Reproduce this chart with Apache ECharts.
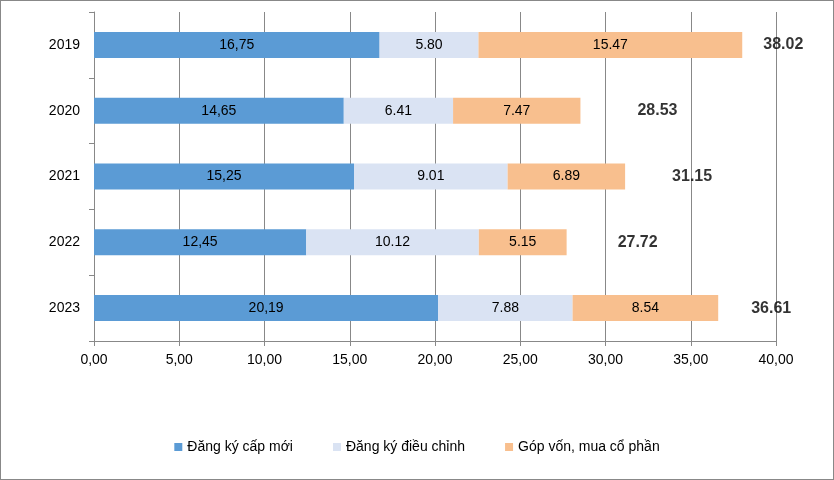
<!DOCTYPE html><html><head><meta charset="utf-8">
<script src="https://cdn.jsdelivr.net/npm/echarts@6/dist/echarts.min.js"></script>
<style>html,body{margin:0;padding:0}#c{width:832px;height:478px;border:1px solid #888}</style></head><body>
<div id="c"></div>
<script>
var years=['2019','2020','2021','2022','2023'];
var capMoi=[16.75,14.65,15.25,12.45,20.19];
var dieuChinh=[5.80,6.41,9.01,10.12,7.88];
var gopVon=[15.47,7.47,6.89,5.15,8.54];
var totals=[38.02,28.53,31.15,27.72,36.61];
var totalOffsets=[[16,0],[52,0],[42,0],[46,0],[28,0]];
var ch=echarts.init(document.getElementById('c'));
var lab={show:true,position:'inside',color:'#000',fontSize:14,fontFamily:'Liberation Sans'};
ch.setOption({
 animation:false,
 grid:{left:93,right:57,top:11,bottom:138},
 legend:{bottom:20,itemWidth:8,itemHeight:8,itemGap:40,icon:'rect',textStyle:{fontSize:14,color:'#000',fontFamily:'Liberation Sans'},data:['Đăng ký cấp mới','Đăng ký điều chỉnh','Góp vốn, mua cổ phần']},
 xAxis:{type:'value',min:0,max:40,interval:5,axisLabel:{formatter:function(v){return v.toFixed(2).replace('.',',');},fontSize:14,color:'#000',fontFamily:'Liberation Sans',margin:12},
  splitLine:{lineStyle:{color:'#888'}},axisLine:{show:true,lineStyle:{color:'#888'}},axisTick:{show:true,length:5,lineStyle:{color:'#888'}}},
 yAxis:{type:'category',inverse:true,data:years,axisLabel:{fontSize:14,color:'#000',fontFamily:'Liberation Sans',margin:14},
  axisLine:{lineStyle:{color:'#888'}},axisTick:{show:true,length:5,lineStyle:{color:'#888'}}},
 series:[
  {name:'Đăng ký cấp mới',type:'bar',stack:'a',barWidth:26,data:capMoi,itemStyle:{color:'#5B9BD5'},label:Object.assign({},lab,{formatter:function(p){return p.value.toFixed(2).replace('.',',');}})},
  {name:'Đăng ký điều chỉnh',type:'bar',stack:'a',data:dieuChinh,itemStyle:{color:'#DAE3F3'},label:Object.assign({},lab,{formatter:function(p){return p.value.toFixed(2);}})},
  {name:'Góp vốn, mua cổ phần',type:'bar',stack:'a',data:gopVon,itemStyle:{color:'#F8BF8E'},label:Object.assign({},lab,{formatter:function(p){return p.value.toFixed(2);}})},
  {type:'scatter',symbolSize:0,data:totals.map(function(t,i){return {value:[t,years[i]],label:{offset:totalOffsets[i]}};}),
   label:{show:true,position:'right',fontSize:16,fontWeight:'bold',color:'#000',fontFamily:'Liberation Sans',formatter:function(p){return p.value[0].toFixed(2);}}}
 ]
});
</script></body></html>
